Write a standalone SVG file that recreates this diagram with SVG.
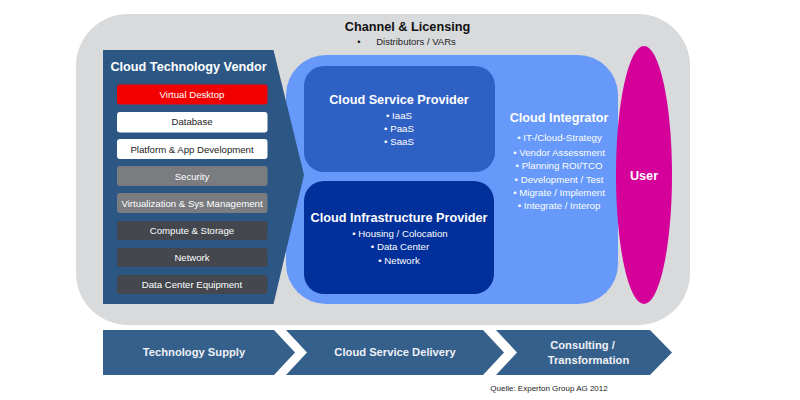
<svg xmlns="http://www.w3.org/2000/svg" width="800" height="400" viewBox="0 0 800 400">
<style>
text{font-family:"Liberation Sans",Arial,sans-serif;text-anchor:middle}
.h{font-weight:bold;font-size:12.700px;fill:#fff}
.s{font-size:9.700px;fill:#fff}
.i{font-size:9.600px}
.b{font-weight:bold;font-size:11.200px;fill:#eef1f6}
</style>
<rect width="800" height="400" fill="#fff"/>
<g id="channel"><rect x="76" y="14" width="614" height="311" rx="52" fill="#d9dadc"/>
<text x="407.500" y="31" font-weight="bold" font-size="12.700px" fill="#111">Channel &amp; Licensing</text>
<text x="359" y="45" font-size="9.500px" fill="#111">•</text>
<text x="416" y="45" font-size="9.500px" fill="#222">Distributors / VARs</text></g>
<g id="integrator"><rect x="286" y="55" width="332" height="249" rx="40" fill="#6699fa"/>
<text x="559" y="122" class="h">Cloud Integrator</text>
<text x="559.500" y="141" class="s">• IT-/Cloud-Strategy</text>
<text x="559" y="156" class="s">• Vendor Assessment</text>
<text x="559" y="169" class="s">• Planning ROI/TCO</text>
<text x="559" y="183" class="s">• Development / Test</text>
<text x="559" y="196" class="s">• Migrate / Implement</text>
<text x="559" y="209" class="s">• Integrate / Interop</text></g>
<g id="vendor"><path d="M103 50H273.500L304 175 273.500 304H103Z" fill="#2c5784"/>
<text x="188.500" y="71" class="h">Cloud Technology Vendor</text>
<g id="item-virtual-desktop"><rect x="117" y="84.500" width="150.500" height="20" rx="3" fill="#f20000"/><text x="192" y="98" class="i" fill="#fff">Virtual Desktop</text></g>
<g id="item-database"><rect x="117" y="112" width="150.500" height="20.500" rx="3" fill="#fff"/><text x="192" y="125" class="i" fill="#222">Database</text></g>
<g id="item-platform"><rect x="117" y="139" width="150.500" height="20" rx="3" fill="#fff"/><text x="192" y="153" class="i" fill="#222">Platform &amp; App Development</text></g>
<g id="item-security"><rect x="117" y="166" width="150.500" height="20" rx="3" fill="#7a7c80"/><text x="192" y="180" class="i" fill="#fff">Security</text></g>
<g id="item-virtualization"><rect x="117" y="193" width="150.500" height="20" rx="3" fill="#7a7c80"/><text x="192" y="207" class="i" fill="#fff">Virtualization &amp; Sys Management</text></g>
<g id="item-compute"><rect x="117" y="221" width="150.500" height="19" rx="3" fill="#44474d"/><text x="192" y="234" class="i" fill="#fff">Compute &amp; Storage</text></g>
<g id="item-network"><rect x="117" y="248" width="150.500" height="19" rx="3" fill="#44474d"/><text x="192" y="261" class="i" fill="#fff">Network</text></g>
<g id="item-equipment"><rect x="117" y="275" width="150.500" height="19" rx="3" fill="#44474d"/><text x="192" y="288" class="i" fill="#fff">Data Center Equipment</text></g></g>
<g id="service-provider"><rect x="304" y="66" width="191" height="106" rx="20" fill="#2f60c4"/>
<text x="399" y="104" class="h">Cloud Service Provider</text>
<text x="399" y="119" class="s">• IaaS</text><text x="399" y="132" class="s">• PaaS</text><text x="399" y="145" class="s">• SaaS</text></g>
<g id="infrastructure-provider"><rect x="304" y="181" width="190" height="113" rx="20" fill="#02309a"/>
<text x="399" y="222" class="h">Cloud Infrastructure Provider</text>
<text x="400" y="237" class="s">• Housing / Colocation</text><text x="400" y="250" class="s">• Data Center</text><text x="399" y="264" class="s">• Network</text></g>
<g id="user"><ellipse cx="644" cy="175" rx="28" ry="129" fill="#d5009a"/>
<text x="644" y="180" class="h">User</text></g>
<g id="connectors">
<g id="supply"><path d="M103 330H274L295 352.500 274 375H103Z" fill="#36608c"/><text x="194" y="356" class="b">Technology Supply</text></g>
<g id="delivery"><path d="M286 330H483L504 352.500 483 375H286L307 352.500Z" fill="#36608c"/><text x="395" y="356" class="b">Cloud Service Delivery</text></g>
<g id="consulting"><path d="M496 330H650L672 352.500 650 375H496L517 352.500Z" fill="#36608c"/><text x="582.500" y="349" class="b">Consulting /</text><text x="588.500" y="364" class="b">Transformation</text></g>
</g>
<text x="549" y="391" font-size="8px" fill="#222">Quelle: Experton Group AG 2012</text>
</svg>
